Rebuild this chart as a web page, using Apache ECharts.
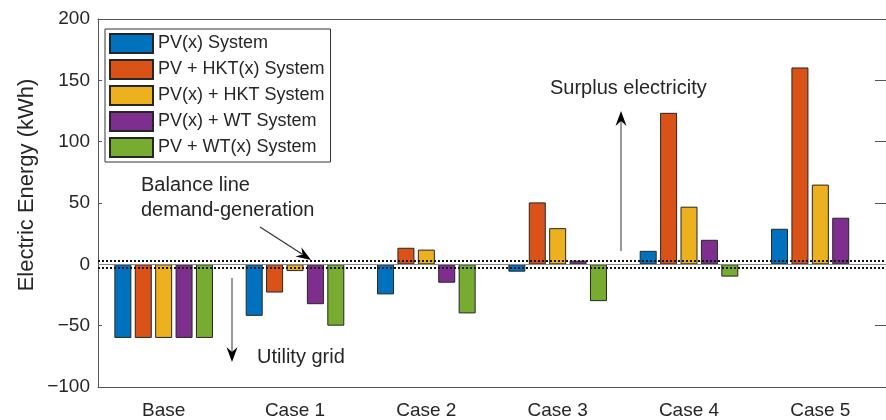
<!DOCTYPE html>
<html>
<head>
<meta charset="utf-8">
<script src="https://cdn.jsdelivr.net/npm/echarts@6/dist/echarts.min.js"></script>
<style>
  html, body { margin: 0; padding: 0; background: #fff; }
  #chart { width: 886px; height: 420px; }
</style>
</head>
<body>
<div id="chart"></div>
<script>
// Scenarios on the horizontal axis
const categories = ['Base', 'Case 1', 'Case 2', 'Case 3', 'Case 4', 'Case 5'];

// Net electric energy per system (kWh); positive = surplus, negative = drawn from grid
const pvX      = [-60, -42, -24.5, -6, 11, 29];
const pvHktX   = [-60, -23, 13.5, 50.5, 123.5, 160.5];
const pvXHkt   = [-60, -5.5, 12, 29.5, 47, 65];
const pvXWt    = [-60, -32.5, -15, 3, 20, 38];
const pvWtX    = [-60, -50, -40, -30, -10, null];

const seriesNames = ['PV(x) System', 'PV + HKT(x) System', 'PV(x) + HKT System', 'PV(x) + WT System', 'PV + WT(x) System'];
const seriesColors = ['#0072BD', '#D95319', '#EDB120', '#7E2F8E', '#77AC30'];
const seriesData = [pvX, pvHktX, pvXHkt, pvXWt, pvWtX];

// Balance band around zero (kWh)
const balanceBand = [3, -3];

const yTicks = { min: -100, max: 200, interval: 50 };

const FONT = 'Liberation Sans, Arial, Helvetica, sans-serif';
const AXIS_COLOR = '#555';
const TEXT_COLOR = '#262626';

const chart = echarts.init(document.getElementById('chart'), null, { renderer: 'canvas' });

const series = seriesData.map((d, i) => ({
  name: seriesNames[i],
  type: 'bar',
  data: d,
  barWidth: 17,
  barGap: '20%',
  itemStyle: { color: seriesColors[i], borderColor: '#262626', borderWidth: 1 },
  animation: false
}));

// Baseline and dotted balance band, drawn on top of the bars
series[series.length - 1].markLine = {
  silent: true,
  symbol: 'none',
  label: { show: false },
  animation: false,
  data: [
    { yAxis: 0, lineStyle: { color: '#8a8a8a', width: 1, type: 'solid' } },
    { yAxis: balanceBand[0], lineStyle: { color: '#111', width: 2, type: [2, 2] } },
    { yAxis: balanceBand[1], lineStyle: { color: '#111', width: 2, type: [2, 2] } }
  ]
};

function arrowHead(tip, dir, len, half, notch) {
  const n = Math.hypot(dir[0], dir[1]);
  const u = [dir[0] / n, dir[1] / n];
  const p = [-u[1], u[0]];
  const base = [tip[0] - u[0] * len, tip[1] - u[1] * len];
  return [
    tip,
    [base[0] + p[0] * half, base[1] + p[1] * half],
    [tip[0] - u[0] * notch, tip[1] - u[1] * notch],
    [base[0] - p[0] * half, base[1] - p[1] * half]
  ];
}

const textStyle = (size) => ({ fill: TEXT_COLOR, font: size + 'px ' + FONT });

const option = {
  animation: false,
  backgroundColor: '#fff',
  grid: { left: 98, right: -10, top: 19, bottom: 32, containLabel: false },
  legend: {
    orient: 'vertical',
    left: 105,
    top: 29,
    padding: [4, 6, 4, 4],
    itemWidth: 43,
    itemHeight: 19,
    itemGap: 5,
    icon: 'rect',
    backgroundColor: '#fff',
    borderColor: '#333',
    borderWidth: 1,
    borderRadius: 0,
    data: seriesNames,
    textStyle: { fontFamily: FONT, fontSize: 18, color: TEXT_COLOR }
  },
  xAxis: [
    {
      type: 'category',
      data: categories,
      position: 'bottom',
      axisLine: { onZero: false, lineStyle: { color: AXIS_COLOR, width: 1 } },
      axisTick: { inside: true, alignWithLabel: true, length: 6, lineStyle: { color: AXIS_COLOR } },
      axisLabel: { fontFamily: FONT, fontSize: 19, color: TEXT_COLOR, margin: 14 },
      splitLine: { show: false }
    },
    {
      type: 'category',
      data: categories,
      position: 'top',
      axisLine: { onZero: false, lineStyle: { color: AXIS_COLOR, width: 1 } },
      axisTick: { inside: true, alignWithLabel: true, length: 6, lineStyle: { color: AXIS_COLOR } },
      axisLabel: { show: false },
      splitLine: { show: false }
    }
  ],
  yAxis: [
    {
      type: 'value',
      min: yTicks.min, max: yTicks.max, interval: yTicks.interval,
      position: 'left',
      axisLine: { show: true, onZero: false, lineStyle: { color: AXIS_COLOR, width: 1 } },
      axisTick: { show: true, inside: true, length: 4, lineStyle: { color: AXIS_COLOR } },
      axisLabel: {
        fontFamily: FONT, fontSize: 19, color: TEXT_COLOR, margin: 8,
        formatter: v => String(v).replace('-', '\u2212')
      },
      splitLine: { show: false }
    },
    {
      type: 'value',
      min: yTicks.min, max: yTicks.max, interval: yTicks.interval,
      position: 'right',
      axisLine: { show: true, onZero: false, lineStyle: { color: AXIS_COLOR, width: 1 } },
      axisTick: { show: true, inside: true, length: 11, lineStyle: { color: AXIS_COLOR } },
      axisLabel: { show: false },
      splitLine: { show: false }
    }
  ],
  series: series,
  graphic: [
    // y-axis title
    {
      type: 'text', x: 27, y: 185, rotation: Math.PI / 2,
      style: Object.assign(textStyle(22), { text: 'Electric Energy (kWh)', textAlign: 'center', textVerticalAlign: 'middle' })
    },
    // balance line annotation
    { type: 'text', x: 141, y: 185, style: Object.assign(textStyle(20), { text: 'Balance line', textVerticalAlign: 'middle' }) },
    { type: 'text', x: 141, y: 210, style: Object.assign(textStyle(20), { text: 'demand-generation', textVerticalAlign: 'middle' }) },
    { type: 'line', shape: { x1: 260, y1: 227, x2: 302, y2: 254 }, style: { stroke: '#333', lineWidth: 1.2 } },
    { type: 'polygon', shape: { points: arrowHead([311, 260], [51, 33], 15, 5.5, 10) }, style: { fill: '#000' } },
    // utility grid annotation
    { type: 'line', shape: { x1: 232, y1: 278, x2: 232, y2: 353 }, style: { stroke: '#777', lineWidth: 1.5 } },
    { type: 'polygon', shape: { points: arrowHead([232, 362], [0, 1], 15, 5.5, 10) }, style: { fill: '#000' } },
    { type: 'text', x: 257, y: 357, style: Object.assign(textStyle(20), { text: 'Utility grid', textVerticalAlign: 'middle' }) },
    // surplus electricity annotation
    { type: 'line', shape: { x1: 621, y1: 251, x2: 621, y2: 120 }, style: { stroke: '#777', lineWidth: 1.5 } },
    { type: 'polygon', shape: { points: arrowHead([621, 111], [0, -1], 15, 5.5, 10) }, style: { fill: '#000' } },
    { type: 'text', x: 550, y: 88, style: Object.assign(textStyle(20), { text: 'Surplus electricity', textVerticalAlign: 'middle' }) }
  ]
};

chart.setOption(option);
</script>
</body>
</html>
